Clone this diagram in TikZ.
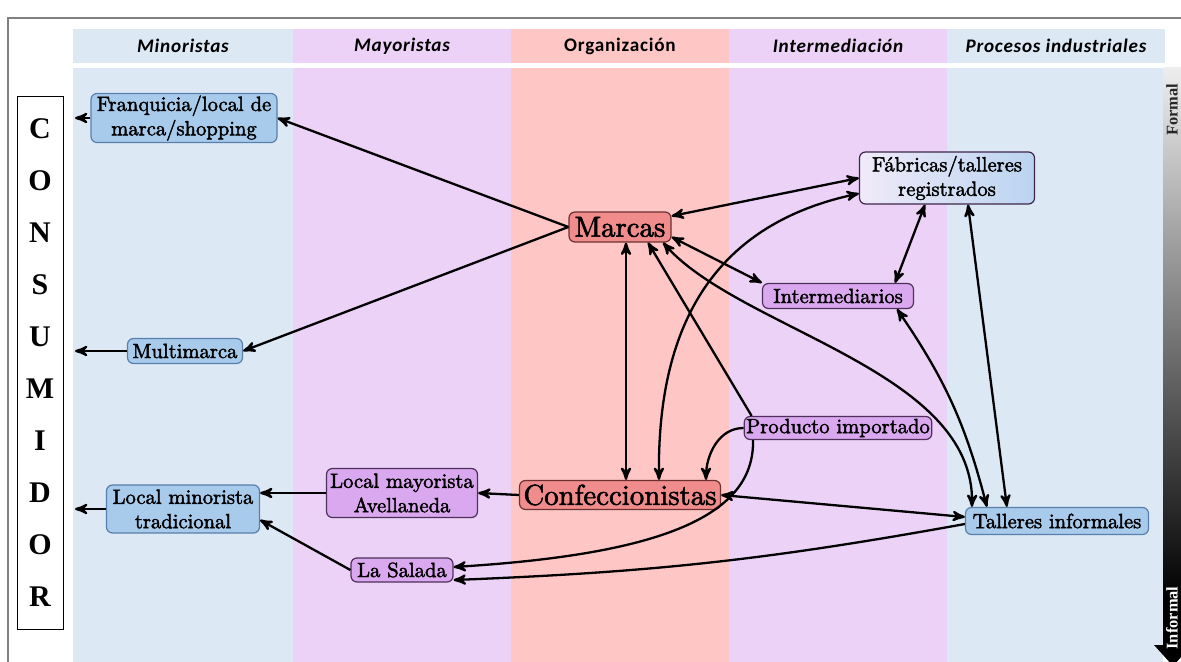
\documentclass[tikz,border=0pt]{standalone}
\usepackage{fontspec}
\newfontfamily\cabecera[LetterSpace=4]{Carlito}
\newfontfamily\letras{Liberation Serif}
\newfontfamily\textonodo[FakeBold=2]{lmroman10-regular.otf}
\usepackage{tikz}
\usetikzlibrary{arrows, positioning}
\definecolor{fondoazul}{RGB}{221,232,245}
\definecolor{fondolila}{RGB}{236,210,246}
\definecolor{fondorojo}{RGB}{255,198,198}
\definecolor{nodoazul}{RGB}{168,202,235}
\definecolor{bordeazul}{RGB}{88,128,172}
\definecolor{nodolila}{RGB}{218,168,238}
\definecolor{bordelila}{RGB}{78,48,92}
\definecolor{nodorojo}{RGB}{240,140,140}
\definecolor{borderojo}{RGB}{108,48,48}
\definecolor{fabizq}{RGB}{240,234,249}
\definecolor{fabder}{RGB}{186,212,240}
\tikzset{
  caja/.style = {align=center, inner sep=1pt, rounded corners=3pt,
    line width=0.6pt, text=black, font=\textonodo\fontsize{10.3}{12.2}\selectfont},
  azul/.style = {caja, fill=nodoazul, draw=bordeazul},
  lila/.style = {caja, fill=nodolila, draw=bordelila},
  rojo/.style = {caja, fill=nodorojo, draw=borderojo,
    font=\textonodo\fontsize{14.4}{16}\selectfont},
  titulo/.style = {font=\cabecera\bfseries\itshape\fontsize{9.6}{11}\selectfont},
  flecha/.style = {line width=1.15pt}
}

\begin{document}
\begin{tikzpicture}[>=stealth', x=0.5pt, y=-0.5pt]
\useasboundingbox (0,0) rectangle (1181,662);
% columnas de fondo
\foreach \xa/\xb/\col in {73/293/fondoazul, 293/511/fondolila,
    511/729/fondorojo, 729/947/fondolila, 947/1165/fondoazul} {
  \fill[\col] (\xa,29) rectangle (\xb,63);
  \fill[\col] (\xa,68) rectangle ({min(\xb,1163)},662);
}
\draw[gray, line width=0.75pt] (8,662) -- (8,18) -- (1181,18);
\node[titulo] (hmin) at (183,46) {Minoristas};
\node[titulo] (hmay) at (402,46) {Mayoristas};
\node[font=\cabecera\bfseries\fontsize{9.6}{11}\selectfont] (horg) at (620,46) {Organización};
\node[titulo] (hint) at (838,46) {Intermediación};
\node[titulo] (hpro) at (1056,46) {Procesos industriales};

% escala formal - informal
\shade[top color=white!93!black, bottom color=black] (1163,68) rectangle (1185,600);
\fill[black] (1163,599) rectangle (1185,646);
\fill[black] (1154,645) -- (1192,645) -- (1173,666) -- cycle;
\node[rotate=90, font=\letras\bfseries\fontsize{8.2}{9}\selectfont, text=black!85] (formal) at (1172,110) {Formal};
\node[rotate=90, font=\letras\bfseries\fontsize{8.2}{9}\selectfont, text=white] (informal) at (1172,618) {Informal};

% consumidor
\node[draw, line width=0.5pt, fill=white, minimum width=23pt, minimum height=266pt,
  inner sep=0pt, align=center, font=\letras\bfseries\fontsize{15}{26}\selectfont]
  (consumidor) at (40,363) {C\\O\\N\\S\\U\\M\\I\\D\\O\\R};
\coordinate (borde) at (75,0);

% nodos
\node[azul, minimum width=93pt, minimum height=24.5pt] (franq) at (184,118) {Franquicia/local de\\marca/shopping};
\node[azul, minimum width=57.5pt, minimum height=12.5pt] (multi) at (185,351) {Multimarca};
\node[azul, minimum width=76.5pt, minimum height=24pt] (minor) at (183,509) {Local minorista\\tradicional};
\node[lila, minimum width=75.5pt, minimum height=24.5pt] (mayor) at (402,493) {Local mayorista\\Avellaneda};
\node[lila, minimum width=51pt, minimum height=12pt] (salada) at (402,570) {La Salada};
\node[rojo, minimum width=100.5pt, minimum height=14.5pt] (confec) at (620,495) {Confeccionistas};
\node[rojo, minimum width=51pt, minimum height=15pt] (marcas) at (620,227) {Marcas};
\node[caja, draw=bordelila!80!black, left color=fabizq, right color=fabder,
  minimum width=87.5pt, minimum height=26pt] (fabricas) at (947,178) {Fábricas/talleres\\registrados};
\node[lila, minimum width=75.5pt, minimum height=12.5pt] (interm) at (838,296) {Intermediarios};
\node[lila, minimum width=93pt, minimum height=11.5pt] (importado) at (838,428) {Producto importado};
\node[azul, minimum width=91.5pt, minimum height=13.5pt] (talleres) at (1057,521) {Talleres informales};

% conexiones
\draw[flecha, ->] (franq.west) -- (franq.west -| borde);
\draw[flecha, ->] (multi.west) -- (multi.west -| borde);
\draw[flecha, ->] (minor.west) -- (minor.west -| borde);
\draw[flecha, ->] (marcas.west) -- (franq.east);
\draw[flecha, ->] (marcas.west) -- (multi.east);
\draw[flecha, <->] (marcas.12) -- (fabricas.west);
\draw[flecha, <->] ([xshift=19.5pt]confec.north) .. controls (657,330) and (710,225) .. (fabricas.190);
\draw[flecha, <->] ([xshift=3pt]marcas.south) -- ([xshift=3pt]confec.north);
\draw[flecha, ->] ([xshift=4pt]importado.north west) -- ([xshift=14pt]marcas.south);
\draw[flecha, <->] ([yshift=-5pt]marcas.east) -- (interm.north west);
\draw[flecha, <->] ([xshift=21.5pt]marcas.south) .. controls (740,330) and (975,370) .. ([xshift=3.5pt]talleres.north west);
\draw[flecha, <->] ([xshift=29.5pt]interm.south) to[bend left=10] ([xshift=11pt]talleres.north west);
\draw[flecha, <->] ([xshift=10.5pt]fabricas.south) -- ([xshift=21pt]talleres.north west);
\draw[flecha, <->] ([xshift=-11pt]fabricas.south) -- ([xshift=28.5pt]interm.north);
\draw[flecha, ->] (importado.west) to[out=180, in=90] ([xshift=43pt]confec.north);
\draw[flecha, ->] ([xshift=-42.5pt]importado.south) .. controls (755,520) and (650,555) .. ([yshift=1.5pt]salada.east);
\draw[flecha, <->] ([yshift=2pt]talleres.west) -- (confec.east);
\draw[flecha, ->] ([yshift=-1.5pt]talleres.west) to[bend left=4] ([yshift=-5pt]salada.east);
\draw[flecha, ->] (confec.west) -- (mayor.east);
\draw[flecha, ->] (mayor.west) -- (mayor.west -| minor.east);
\draw[flecha, ->] (salada.west) -- ([yshift=-5.5pt]minor.east);
\end{tikzpicture}
\end{document}
